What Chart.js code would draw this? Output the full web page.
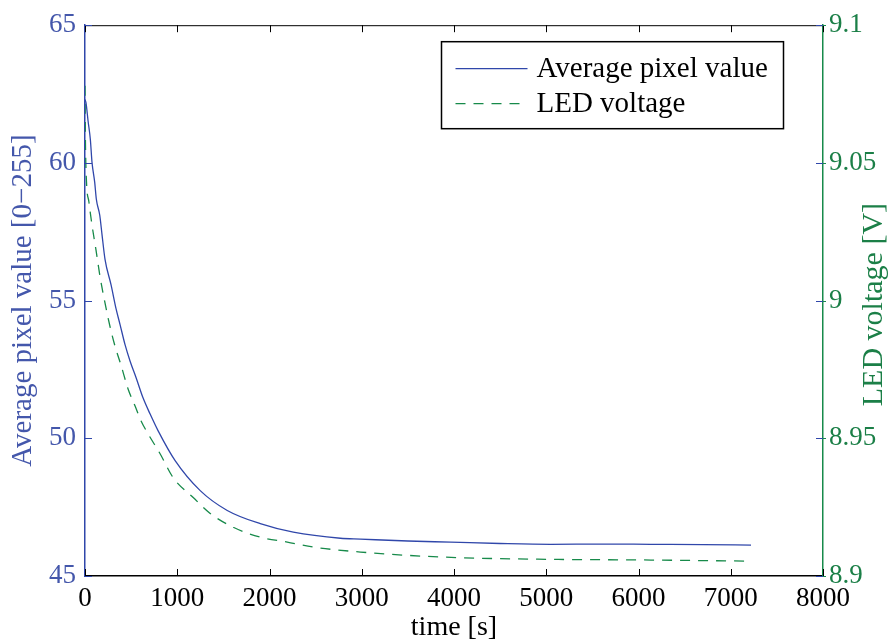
<!DOCTYPE html>
<html>
<head>
<meta charset="utf-8">
<script src="https://cdn.jsdelivr.net/npm/chart.js@4.4.1/dist/chart.umd.min.js"></script>
<style>
  html, body { margin: 0; padding: 0; background: #fff; }
  #wrap { width: 892px; height: 644px; }
</style>
</head>
<body>
<div id="wrap"><canvas id="chart" width="892" height="644"></canvas></div>
<script>
// data
const timePixel = [0, 11, 33, 58, 76, 105, 123, 160, 185, 217, 282, 337, 380, 434, 489, 554, 630, 706, 793,
  977, 1249, 1542, 1900, 2258, 2769, 2986, 3500, 3963, 4500, 5049, 5600, 6135, 6700, 7220];
const pixelValue = [62.3, 62.18, 61.53, 60.85, 60.02, 59.3, 58.68, 58.1, 57.38, 56.5, 55.58, 54.7, 54.13, 53.4, 52.8, 52.2, 51.46, 50.88, 50.27,
  49.19, 48.1, 47.38, 46.9, 46.59, 46.37, 46.34, 46.27, 46.23, 46.18, 46.15, 46.16, 46.15, 46.14, 46.12];

const timeLed = [0, 4, 14, 43, 76, 119, 163, 214, 271, 326, 391, 467, 543, 608, 684, 814, 956, 1173, 1357, 1607,
  1900, 2193, 2476, 2986, 3855, 4908, 6135, 7188];
const ledVoltage = [9.078, 9.06, 9.0448, 9.0357, 9.0274, 9.0184, 9.0087, 8.9996, 8.9906, 8.9834, 8.9765, 8.9679, 8.9617, 8.9563, 8.9516, 8.9444, 8.9357, 8.9285, 8.9227, 8.9177,
  8.9141, 8.9123, 8.9105, 8.9087, 8.9069, 8.9061, 8.9058, 8.9054];

const timeTicks = [0, 1000, 2000, 3000, 4000, 5000, 6000, 7000, 8000];
const pixelTicks = [45, 50, 55, 60, 65];
const voltageTicks = [8.9, 8.95, 9, 9.05, 9.1];

const seriesNames = ['Average pixel value', 'LED voltage'];

const BLUE = '#3047aa';
const BLUE_TEXT = '#4457ab';
const GREEN = '#178a4a';
const GREEN_TEXT = '#1b7f47';
const SERIF = '"Liberation Serif", "DejaVu Serif", serif';

Chart.defaults.font.family = SERIF;

// MATLAB style: inward ticks, top frame line, boxed legend, right label reading upwards
const matlabFrame = {
  id: 'matlabFrame',
  afterDraw(chart) {
    const { ctx, chartArea: a, scales } = chart;
    const tl = 7;
    ctx.save();
    ctx.lineWidth = 1;

    // top frame
    ctx.strokeStyle = '#000';
    ctx.beginPath();
    ctx.moveTo(a.left, a.top + 0.5);
    ctx.lineTo(a.right, a.top + 0.5);
    ctx.stroke();

    // x ticks bottom and top
    scales.x.ticks.forEach(t => {
      const px = Math.round(scales.x.getPixelForValue(t.value)) + 0.5;
      ctx.beginPath();
      ctx.moveTo(px, a.bottom); ctx.lineTo(px, a.bottom - tl);
      ctx.moveTo(px, a.top); ctx.lineTo(px, a.top + tl);
      ctx.stroke();
    });

    // left axis ticks (both sides)
    ctx.strokeStyle = BLUE;
    scales.y.ticks.forEach(t => {
      const py = Math.round(scales.y.getPixelForValue(t.value)) + 0.5;
      ctx.beginPath();
      ctx.moveTo(a.left, py); ctx.lineTo(a.left + tl, py);
      ctx.moveTo(a.right - tl, py); ctx.lineTo(a.right, py);
      ctx.stroke();
    });

    // right axis ticks
    ctx.strokeStyle = GREEN;
    scales.y2.ticks.forEach(t => {
      const py = Math.round(scales.y2.getPixelForValue(t.value)) + 0.5;
      ctx.beginPath();
      ctx.moveTo(a.right, py); ctx.lineTo(a.right + 3, py);
      ctx.stroke();
    });

    // right axis title, rotated like the left one
    ctx.fillStyle = GREEN_TEXT;
    ctx.font = '30px ' + SERIF;
    ctx.translate(scales.y2.right - 18, (a.top + a.bottom) / 2 + 4);
    ctx.rotate(-Math.PI / 2);
    ctx.textAlign = 'center';
    ctx.textBaseline = 'middle';
    ctx.fillText('LED voltage [V]', 0, 0);
    ctx.restore();

    // legend box
    ctx.save();
    const bw = 342, bh = 87;
    const bx = a.right - 40 - bw + 0.5, by = a.top + 16 + 0.5;
    ctx.fillStyle = '#fff';
    ctx.fillRect(bx, by, bw, bh);
    ctx.strokeStyle = '#000';
    ctx.lineWidth = 1.5;
    ctx.strokeRect(bx, by, bw, bh);
    ctx.font = '29px ' + SERIF;
    ctx.textBaseline = 'middle';
    ctx.fillStyle = '#000';
    chart.data.datasets.forEach((ds, i) => {
      const ry = by + 27 + i * 35;
      ctx.strokeStyle = ds.borderColor;
      ctx.lineWidth = 1.3;
      ctx.setLineDash(ds.borderDash || []);
      ctx.beginPath();
      ctx.moveTo(bx + 14, ry); ctx.lineTo(bx + 86, ry);
      ctx.stroke();
      ctx.setLineDash([]);
      ctx.fillText(ds.label, bx + 95, ry + 1);
    });
    ctx.restore();
  }
};

new Chart(document.getElementById('chart'), {
  type: 'line',
  data: {
    datasets: [{
      label: seriesNames[0],
      data: timePixel.map((t, i) => ({ x: t, y: pixelValue[i] })),
      borderColor: BLUE,
      borderWidth: 1.3,
      pointRadius: 0,
      cubicInterpolationMode: 'monotone',
      yAxisID: 'y'
    }, {
      label: seriesNames[1],
      data: timeLed.map((t, i) => ({ x: t, y: ledVoltage[i] })),
      borderColor: GREEN,
      borderWidth: 1.3,
      borderDash: [10, 8],
      pointRadius: 0,
      cubicInterpolationMode: 'monotone',
      yAxisID: 'y2'
    }]
  },
  options: {
    responsive: false,
    animation: false,
    layout: { padding: { top: 19, left: 0, right: 0, bottom: 0 } },
    plugins: { legend: { display: false }, tooltip: { enabled: false } },
    scales: {
      x: {
        type: 'linear',
        min: 0, max: 8000,
        afterBuildTicks: s => { s.ticks = timeTicks.map(v => ({ value: v })); },
        afterFit: s => { s.height = 68; },
        grid: { drawOnChartArea: false, drawTicks: false },
        border: { color: '#000', width: 1.5 },
        ticks: { color: '#000', font: { size: 27 }, padding: 7, maxRotation: 0, callback: v => String(v) },
        title: { display: true, text: 'time [s]', color: '#000', font: { size: 28 }, padding: { top: 0, bottom: 0 } }
      },
      y: {
        position: 'left',
        min: 45, max: 65,
        afterBuildTicks: s => { s.ticks = pixelTicks.map(v => ({ value: v })); },
        afterFit: s => { s.width = 85; },
        grid: { drawOnChartArea: false, drawTicks: false },
        border: { color: BLUE, width: 1.5 },
        ticks: { color: BLUE_TEXT, font: { size: 27 }, padding: 9, callback: v => String(v) },
        title: { display: true, text: 'Average pixel value [0\u2212255]', color: BLUE_TEXT, font: { size: 29 }, padding: { top: 6, bottom: 0 } }
      },
      y2: {
        position: 'right',
        min: 8.9, max: 9.1,
        afterBuildTicks: s => { s.ticks = voltageTicks.map(v => ({ value: v })); },
        afterFit: s => { s.width = 69; },
        grid: { drawOnChartArea: false, drawTicks: false },
        border: { color: GREEN, width: 1.5 },
        ticks: { color: GREEN_TEXT, font: { size: 27 }, padding: 6, callback: v => String(v) }
      }
    }
  },
  plugins: [matlabFrame]
});
</script>
</body>
</html>
